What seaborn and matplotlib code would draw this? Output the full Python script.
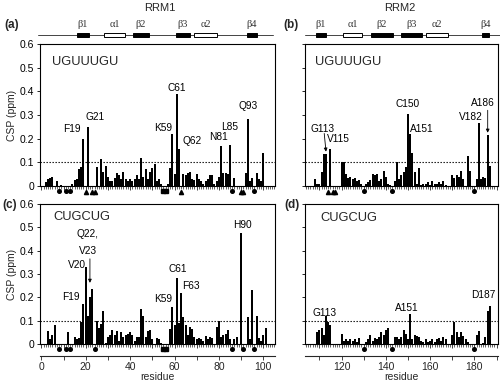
import matplotlib
matplotlib.use('Agg')
import matplotlib.pyplot as plt
import seaborn as sns
import numpy as np
import pandas as pd
from matplotlib.ticker import MultipleLocator, FuncFormatter
from matplotlib.patches import Rectangle
from matplotlib.lines import Line2D

# ---------------- data ----------------
rrm1_res = list(range(2, 102))
csp_a = [0.015, 0.03, 0.035, 0.04, 0.0, 0.02, 0.0, 0.005, 0.0, 0.0,      # 2-11
         0.0, 0.0, 0.01, 0.025, 0.03, 0.07, 0.08, 0.2, 0.0, 0.25,         # 12-21
         0.0, 0.0, 0.0, 0.08, 0.0, 0.115, 0.06, 0.085, 0.04, 0.02,        # 22-31
         0.02, 0.035, 0.055, 0.045, 0.03, 0.06, 0.03, 0.02, 0.03, 0.02,   # 32-41
         0.03, 0.045, 0.03, 0.12, 0.04, 0.07, 0.03, 0.06, 0.075, 0.095,   # 42-51
         0.02, 0.03, 0.01, 0.0, 0.0, 0.01, 0.075, 0.22, 0.05, 0.39,       # 52-61
         0.155, 0.0, 0.05, 0.045, 0.055, 0.06, 0.03, 0.025, 0.05, 0.03,   # 62-71
         0.02, 0.01, 0.02, 0.03, 0.045, 0.045, 0.01, 0.02, 0.04, 0.17,    # 72-81
         0.055, 0.055, 0.05, 0.175, 0.0, 0.035, 0.0, 0.0, 0.0, 0.0,       # 82-91
         0.055, 0.285, 0.02, 0.035, 0.0, 0.055, 0.03, 0.02, 0.14, 0.0]    # 92-101
csp_c = [0.0, 0.055, 0.02, 0.04, 0.08, 0.0, 0.0, 0.0, 0.0, 0.0,          # 2-11
         0.05, 0.0, 0.0, 0.03, 0.02, 0.025, 0.095, 0.17, 0.33, 0.12,      # 12-21
         0.2, 0.235, 0.0, 0.1, 0.07, 0.085, 0.14, 0.005, 0.03, 0.04,      # 22-31
         0.06, 0.04, 0.055, 0.015, 0.05, 0.03, 0.04, 0.045, 0.05, 0.04,   # 32-41
         0.015, 0.03, 0.03, 0.15, 0.12, 0.03, 0.055, 0.06, 0.02, 0.0,     # 42-51
         0.025, 0.02, 0.005, 0.0, 0.0, 0.0, 0.065, 0.16, 0.08, 0.285,     # 52-61
         0.09, 0.22, 0.115, 0.08, 0.04, 0.075, 0.065, 0.03, 0.02, 0.025,  # 62-71
         0.02, 0.015, 0.035, 0.02, 0.03, 0.025, 0.0, 0.075, 0.1, 0.03,    # 72-81
         0.04, 0.045, 0.06, 0.02, 0.0, 0.02, 0.03, 0.0, 0.475, 0.0,       # 82-91
         0.0, 0.115, 0.02, 0.23, 0.0, 0.12, 0.025, 0.015, 0.04, 0.07]     # 92-101

rrm2_res = list(range(105, 190))
csp_b = [0.0, 0.0, 0.0, 0.03, 0.01, 0.01, 0.06, 0.135, 0.135, 0.0,       # 105-114
         0.155, 0.0, 0.0, 0.0, 0.0, 0.1, 0.1, 0.05, 0.035, 0.04,          # 115-124
         0.03, 0.035, 0.02, 0.025, 0.01, 0.0, 0.01, 0.015, 0.025, 0.05,   # 125-134
         0.045, 0.05, 0.02, 0.03, 0.065, 0.04, 0.01, 0.005, 0.0, 0.02,    # 135-144
         0.1, 0.03, 0.045, 0.06, 0.08, 0.305, 0.22, 0.14, 0.06, 0.01,     # 145-154
         0.075, 0.005, 0.01, 0.01, 0.015, 0.005, 0.02, 0.01, 0.01, 0.015, # 155-164
         0.01, 0.02, 0.005, 0.0, 0.0, 0.045, 0.035, 0.045, 0.04, 0.065,   # 165-174
         0.03, 0.0, 0.125, 0.065, 0.0, 0.0, 0.03, 0.265, 0.03, 0.04,      # 175-184
         0.035, 0.215, 0.085, 0.0, 0.0]                                   # 185-189
csp_d = [0.0, 0.0, 0.0, 0.0, 0.05, 0.06, 0.07, 0.04, 0.12, 0.095,        # 105-114
         0.08, 0.0, 0.0, 0.0, 0.0, 0.045, 0.015, 0.02, 0.015, 0.02,       # 115-124
         0.015, 0.02, 0.01, 0.025, 0.0, 0.0, 0.01, 0.02, 0.04, 0.015,     # 125-134
         0.025, 0.02, 0.03, 0.05, 0.04, 0.06, 0.07, 0.0, 0.0, 0.03,       # 135-144
         0.03, 0.02, 0.03, 0.06, 0.045, 0.02, 0.13, 0.02, 0.04, 0.035,    # 145-154
         0.03, 0.015, 0.01, 0.02, 0.01, 0.015, 0.02, 0.01, 0.02, 0.025,   # 155-164
         0.015, 0.03, 0.02, 0.0, 0.0, 0.04, 0.095, 0.05, 0.03, 0.05,      # 165-174
         0.035, 0.02, 0.01, 0.0, 0.0, 0.0, 0.04, 0.055, 0.0, 0.005,       # 175-184
         0.03, 0.14, 0.165, 0.0, 0.0]                                     # 185-189

# markers below the axis (residues)
circ_a = [8, 11, 13, 86, 96]
sq_a = [55, 56]
tri_a = [20, 23, 24, 63, 90, 91]
circ_c = [8, 11, 13, 24, 86, 91, 96]
sq_c = [55, 56]
tri_b = [114, 116, 117]
circ_b = [130, 143, 180]
circ_d = [130, 143, 180]

# secondary structure elements (name, start, end, kind)
ss1 = [('β1', 16.1, 21.5, 'b'), ('α1', 28.2, 37.7, 'a'), ('β2', 41.3, 48.5, 'b'),
       ('β3', 60.7, 67.0, 'b'), ('α2', 68.8, 79.1, 'a'), ('β4', 92.7, 97.1, 'b')]
ss2 = [('β1', 108.5, 113.0, 'b'), ('α1', 120.7, 129.3, 'a'), ('β2', 133.3, 143.2, 'b'),
       ('β3', 146.9, 156.3, 'b'), ('α2', 158.1, 168.1, 'a'), ('β4', 183.4, 186.6, 'b')]

# residue annotations (text, x, y, ha)
ann_a = [('F19', 17.7, 0.24, 'right'), ('G21', 20.1, 0.29, 'left'),
         ('K59', 58.9, 0.245, 'right'), ('C61', 61, 0.415, 'center'),
         ('Q62', 63.4, 0.19, 'left'), ('N81', 79.6, 0.205, 'center'),
         ('L85', 85, 0.25, 'center'), ('Q93', 93, 0.34, 'center')]
ann_b = [('G113', 111.6, 0.24, 'center'), ('V115', 113.4, 0.197, 'left'),
         ('C150', 149.8, 0.345, 'center'), ('A151', 151, 0.24, 'left'),
         ('V182', 183.9, 0.29, 'right'), ('A186', 183.6, 0.35, 'center')]
ann_c = [('F19', 17.4, 0.2, 'right'), ('V20', 20.3, 0.338, 'right'),
         ('Q22,', 21.0, 0.472, 'center'), ('V23', 21.0, 0.398, 'center'),
         ('K59', 58.9, 0.195, 'right'),
         ('C61', 61.5, 0.32, 'center'), ('F63', 63.3, 0.25, 'left'),
         ('H90', 90.8, 0.51, 'center')]
ann_d = [('G113', 112.5, 0.135, 'center'), ('A151', 149.6, 0.155, 'center'),
         ('D187', 183.8, 0.21, 'center')]

# ---------------- style ----------------
sns.set_theme(style='ticks')
plt.rcParams['font.family'] = ['Liberation Sans', 'DejaVu Sans']
plt.rcParams['axes.linewidth'] = 0.8
plt.rcParams['xtick.major.width'] = 0.7
plt.rcParams['ytick.major.width'] = 0.7

W, H = 500, 383
fig = plt.figure(figsize=(5.0, 3.83), dpi=100)
fig.patch.set_facecolor('white')


def rect(x0, x1, yt, yb):
    return [x0 / W, 1 - yb / H, (x1 - x0) / W, (yb - yt) / H]


axa = fig.add_axes(rect(40, 275, 44, 186))
axb = fig.add_axes(rect(305, 498, 44, 186))
axc = fig.add_axes(rect(40, 275, 204, 344))
axd = fig.add_axes(rect(305, 498, 204, 344))

XL1 = (-0.59, 105.27)
XL2 = (103.52, 190.65)


def panel(ax, res, vals, xlim, ylabels):
    df = pd.DataFrame({'res': res, 'csp': vals})
    sns.barplot(data=df, x='res', y='csp', native_scale=True, color='black',
                saturation=1, width=0.9, errorbar=None, linewidth=0, ax=ax)
    ax.set_xlim(*xlim)
    ax.set_ylim(0, 0.6)
    ax.set_yticks(np.arange(0, 0.61, 0.1))
    if ylabels:
        ax.set_yticklabels(['0', '0.1', '0.2', '0.3', '0.4', '0.5', '0.6'])
        ax.set_ylabel('CSP (ppm)', fontsize=7.5, labelpad=2)
    else:
        ax.set_yticklabels([])
        ax.set_ylabel('')
    ax.set_xlabel('')
    ax.xaxis.set_major_locator(MultipleLocator(10))
    ax.xaxis.set_minor_locator(MultipleLocator(1))
    ax.tick_params(axis='x', which='major', length=3, width=0.6, direction='out',
                   labelbottom=False)
    ax.tick_params(axis='x', which='minor', length=1.8, width=0.5, direction='out')
    ax.tick_params(axis='y', length=2.5, width=0.6, direction='out', labelsize=7.5,
                   pad=1.5, colors='black')
    for s in ax.spines.values():
        s.set_visible(True)
        s.set_color('black')
        s.set_linewidth(0.8)
    ax.axhline(0.1, ls=(0, (1.2, 1.5)), color='black', lw=0.8)
    ax.set_facecolor('white')


panel(axa, rrm1_res, csp_a, XL1, True)
panel(axb, rrm2_res, csp_b, XL2, False)
panel(axc, rrm1_res, csp_c, XL1, True)
panel(axd, rrm2_res, csp_d, XL2, False)


def marks(ax, xs, marker, y, ms=2.6):
    if xs:
        ax.plot(xs, [y] * len(xs), ls='none', marker=marker, ms=ms, color='black',
                clip_on=False)


marks(axa, circ_a, 'o', -0.022)
marks(axa, sq_a, 's', -0.022, 2.3)
marks(axa, tri_a, '^', -0.024, 3.0)
marks(axc, circ_c, 'o', -0.02)
marks(axc, sq_c, 's', -0.02, 2.3)
marks(axb, tri_b, '^', -0.024, 3.0)
marks(axb, circ_b, 'o', -0.022)
marks(axd, circ_d, 'o', -0.02)


def annotate(ax, items):
    for t, x, y, ha in items:
        ax.text(x, y, t, ha=ha, va='center', fontsize=7.3, color='black')


annotate(axa, ann_a)
annotate(axb, ann_b)
annotate(axc, ann_c)
annotate(axd, ann_d)

arrow = dict(arrowstyle='-|>', lw=0.6, color='black', mutation_scale=5,
             shrinkA=0, shrinkB=0)
axb.annotate('', xy=(113, 0.145), xytext=(112.2, 0.222), arrowprops=arrow)
axb.annotate('', xy=(186, 0.225), xytext=(186, 0.32), arrowprops=arrow)
axc.annotate('', xy=(21.9, 0.262), xytext=(21.9, 0.365), arrowprops=arrow)

axa.text(4.8, 0.525, 'UGUUUGU', fontsize=9.3, va='center', ha='left')
axb.text(108, 0.525, 'UGUUUGU', fontsize=9.3, va='center', ha='left')
axc.text(5.3, 0.543, 'CUGCUG', fontsize=9.3, va='center', ha='left')
axd.text(110.3, 0.54, 'CUGCUG', fontsize=9.3, va='center', ha='left')

# bottom residue axes
for ax, ticks in ((axc, range(0, 101, 10)), (axd, range(110, 191, 10))):
    sec = ax.secondary_xaxis(-0.085)
    sec.set_xticks(list(ticks))
    sec.xaxis.set_major_formatter(
        FuncFormatter(lambda v, p: f'{int(round(v))}' if int(round(v)) % 20 == 0 else ''))
    sec.tick_params(length=3, width=0.6, direction='out', labelsize=7.5, pad=1.2)
    sec.spines['bottom'].set_linewidth(0.8)
    sec.set_xlabel('residue', fontsize=7.5, labelpad=0)


# secondary structure diagrams
def ss(ax, elems, x0, x1):
    tr = ax.get_xaxis_transform()
    yl = 1 + 9 / 142
    h = 4.2 / 142
    ax.add_line(Line2D([x0, x1], [yl, yl], transform=tr, color='#444444', lw=0.7,
                       clip_on=False))
    for name, s, e, kind in elems:
        fc = 'black' if kind == 'b' else 'white'
        ax.add_patch(Rectangle((s, yl - h / 2), e - s, h, transform=tr, facecolor=fc,
                               edgecolor='black', lw=0.7, clip_on=False, zorder=5))
        ax.text((s + e) / 2, 1 + 19 / 142, name, transform=tr, ha='center',
                va='center', fontsize=7.5, color='#333333',
                family=['Liberation Serif', 'DejaVu Serif'])


ss(axa, ss1, -1.5, 104.4)
ss(axb, ss2, 103.5, 191.5)

fig.text(160 / W, 1 - 8 / H, 'RRM1', ha='center', va='center', fontsize=8)
fig.text(400 / W, 1 - 8 / H, 'RRM2', ha='center', va='center', fontsize=8)
for lab, x, y in (('(a)', 4, 25), ('(b)', 283, 25), ('(c)', 2, 205), ('(d)', 284, 205)):
    fig.text(x / W, 1 - y / H, lab, ha='left', va='center', fontsize=8.5,
             fontweight='bold')

fig.savefig('out.png', dpi=100, facecolor='white')
